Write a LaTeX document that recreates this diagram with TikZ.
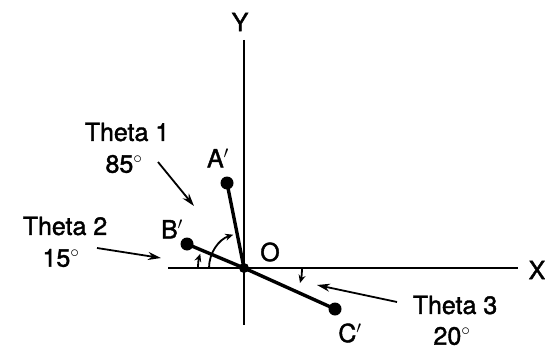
\documentclass[tikz,border=0pt]{standalone}
\usepackage{fontspec}
\setmainfont{TeX Gyre Heros}[FakeBold=1.6]
\usetikzlibrary{arrows.meta}
\begin{document}
\begin{tikzpicture}[x=1pt,y=1pt,
  lbl/.style={font=\fontsize{25}{28}\selectfont, inner sep=0pt},
  axis/.style={line width=2.8pt},
  arm/.style={line width=3.4pt},
  dot/.style={circle, fill=black, minimum size=13pt, inner sep=0pt},
  pointer/.style={line width=1.8pt, -{Stealth[length=13pt,width=8pt]}},
  anglearc/.style={line width=1.8pt, -{Stealth[length=8pt,width=7pt]}}]
\useasboundingbox (0,0) rectangle (545,-350);
% axes
\coordinate (ytop) at (244,-40);
\coordinate (ybot) at (244,-325);
\coordinate (xl) at (168,-268);
\coordinate (xr) at (518,-268);
\draw[axis] (ytop) -- (ybot);
\draw[axis] (xl) -- (xr);
\node[lbl] (Y) at (240,-22) {Y};
\node[lbl] (X) at (537,-270) {X};
% origin and arms
\coordinate (O) at (244,-268);
\node[dot] (A) at (227,-183) {};
\node[dot] (B) at (187,-244) {};
\node[dot] (C) at (335,-309) {};
\draw[arm] (O) -- (A.center);
\draw[arm] (O) -- (B.center);
\draw[arm] (O) -- (C.center);
\node[dot, minimum size=10pt] (Od) at (O) {};
\node[lbl] (Olbl) at (270,-252) {O};
\node[lbl] (Alb) at (218,-158) {A$'$};
\node[lbl] (Blb) at (172,-229) {B$'$};
\node[lbl] (Clb) at (350,-333) {C$'$};
% angle arcs
\draw[anglearc] (O) ++(180:35) arc[start angle=180, end angle=108, radius=35];
\draw[anglearc] (O) ++(180:46) arc[start angle=180, end angle=162, radius=46];
\draw[anglearc] (O) ++(0:58) arc[start angle=0, end angle=-15, radius=58];
% labels
\node[lbl] (t1) at (127,-132) {Theta 1};
\node[lbl] (t1v) at (124,-164) {85$^\circ$};
\node[lbl] (t2) at (65,-226) {Theta 2};
\node[lbl] (t2v) at (61,-258) {15$^\circ$};
\node[lbl] (t3) at (455,-305) {Theta 3};
\node[lbl] (t3v) at (452,-336) {20$^\circ$};
% pointer arrows
\coordinate (p1s) at (158,-162);
\coordinate (p1e) at (194,-206);
\coordinate (p2s) at (97,-248);
\coordinate (p2e) at (161,-258);
\coordinate (p3s) at (397,-302);
\coordinate (p3e) at (317,-285);
\draw[pointer] (p1s) -- (p1e);
\draw[pointer] (p2s) -- (p2e);
\draw[pointer] (p3s) -- (p3e);
\end{tikzpicture}
\end{document}
